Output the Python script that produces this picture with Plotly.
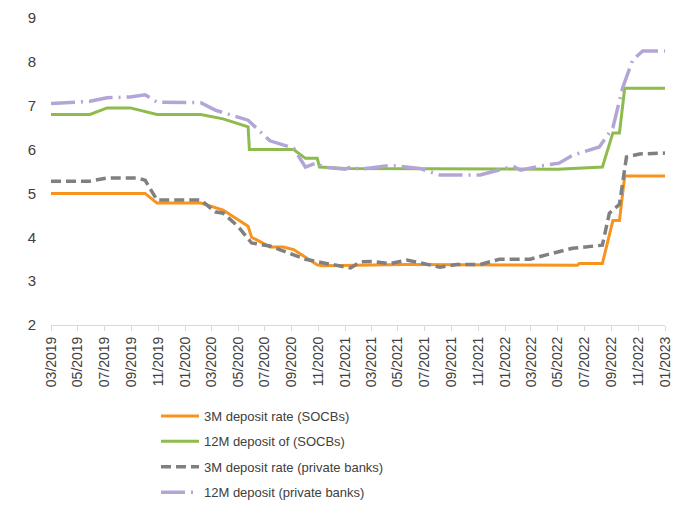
import plotly.graph_objects as go

# 3M deposit rate (SOCBs)
socb3_dates = ["2019-03-01", "2019-10-02", "2019-10-29", "2020-02-06", "2020-03-28", "2020-05-24",
               "2020-06-01", "2020-07-13", "2020-08-12", "2020-09-05", "2020-10-29", "2020-11-10",
               "2021-05-21", "2022-06-15", "2022-06-19", "2022-08-11", "2022-09-04", "2022-09-19",
               "2022-10-01", "2023-01-01"]
socb3_vals = [5.0, 5.0, 4.78, 4.78, 4.62, 4.25,
              4.0, 3.78, 3.78, 3.72, 3.37, 3.35,
              3.38, 3.36, 3.4, 3.4, 4.38, 4.38,
              5.4, 5.4]

# 12M deposit of (SOCBs)
socb12_dates = ["2019-03-01", "2019-05-29", "2019-07-07", "2019-08-29", "2019-10-29", "2020-02-06",
                "2020-03-28", "2020-05-24", "2020-05-27", "2020-09-05", "2020-10-02", "2020-10-29",
                "2020-11-03", "2021-01-01", "2022-05-01", "2022-06-19", "2022-08-11", "2022-09-04",
                "2022-09-19", "2022-10-01", "2023-01-01"]
socb12_vals = [6.8, 6.8, 6.95, 6.95, 6.8, 6.8,
               6.7, 6.52, 6.0, 6.0, 5.8, 5.8,
               5.6, 5.57, 5.55, 5.58, 5.6, 6.38,
               6.38, 7.4, 7.4]

# 3M deposit rate (private banks)
priv3_dates = ["2019-03-01", "2019-05-29", "2019-07-07", "2019-09-15", "2019-10-02", "2019-10-29",
               "2020-02-06", "2020-03-10", "2020-03-28", "2020-05-01", "2020-06-01", "2020-07-13",
               "2020-09-05", "2020-10-02", "2020-11-10", "2021-01-01", "2021-01-13", "2021-02-05",
               "2021-03-04", "2021-04-13", "2021-05-21", "2021-06-20", "2021-08-05", "2021-09-13",
               "2021-11-05", "2021-12-19", "2022-02-27", "2022-04-05", "2022-06-04", "2022-08-11",
               "2022-08-27", "2022-09-19", "2022-10-05", "2022-11-04", "2023-01-01"]
priv3_vals = [5.28, 5.28, 5.35, 5.35, 5.3, 4.85,
              4.85, 4.58, 4.55, 4.25, 3.87, 3.8,
              3.6, 3.5, 3.42, 3.32, 3.3, 3.44,
              3.45, 3.4, 3.48, 3.42, 3.32, 3.38,
              3.38, 3.5, 3.5, 3.6, 3.75, 3.82,
              4.55, 4.75, 5.83, 5.9, 5.92]

# 12M deposit (private banks)
priv12_dates = ["2019-03-01", "2019-05-29", "2019-07-07", "2019-08-29", "2019-10-02", "2019-10-29",
                "2020-02-06", "2020-03-10", "2020-05-24", "2020-07-13", "2020-09-05", "2020-10-02",
                "2020-10-29", "2020-11-10", "2021-01-01", "2021-01-13", "2021-02-05", "2021-04-13",
                "2021-06-20", "2021-08-05", "2021-11-05", "2022-01-19", "2022-02-05", "2022-03-19",
                "2022-05-04", "2022-06-04", "2022-08-04", "2022-09-04", "2022-09-26", "2022-10-19",
                "2022-11-11", "2023-01-01"]
priv12_vals = [7.05, 7.1, 7.18, 7.2, 7.25, 7.08,
               7.07, 6.9, 6.67, 6.2, 6.03, 5.6,
               5.7, 5.6, 5.55, 5.6, 5.55, 5.64,
               5.57, 5.42, 5.42, 5.62, 5.53, 5.62,
               5.69, 5.87, 6.06, 6.5, 7.4, 8.04,
               8.25, 8.25]

names = ["3M deposit rate (SOCBs)", "12M deposit of (SOCBs)",
         "3M deposit rate (private banks)", "12M deposit (private banks)"]

y_ticks = [2, 3, 4, 5, 6, 7, 8, 9]

font_family = "Liberation Sans, Arial, sans-serif"
text_color = "#404040"

fig = go.Figure()
fig.add_trace(go.Scatter(x=socb3_dates, y=socb3_vals, mode="lines", name=names[0],
                         line=dict(color="#F7931E", width=3), legendgroup="a"))
fig.add_trace(go.Scatter(x=socb12_dates, y=socb12_vals, mode="lines", name=names[1],
                         line=dict(color="#8DBB4C", width=3), legendgroup="b"))
fig.add_trace(go.Scatter(x=priv3_dates, y=priv3_vals, mode="lines", name=names[2],
                         line=dict(color="#808080", width=3.5, dash="10px,5px"), legendgroup="c"))
fig.add_trace(go.Scatter(x=priv12_dates, y=priv12_vals, mode="lines", name=names[3],
                         line=dict(color="#B3A6D6", width=3.5, dash="24px,6px,2px,6px"), legendgroup="d"))

fig.update_layout(
    width=683, height=503,
    margin=dict(l=43, r=26, t=10, b=186, autoexpand=False),
    paper_bgcolor="white", plot_bgcolor="white",
    font=dict(family=font_family, size=13, color=text_color),
    showlegend=True,
    legend=dict(x=0.171, y=-0.2476, xanchor="left", yanchor="top",
                orientation="v", tracegroupgap=5.5, itemwidth=38,
                font=dict(size=13, color=text_color),
                bgcolor="rgba(0,0,0,0)"),
    xaxis=dict(type="date", range=["2019-03-01", "2023-01-01"], automargin=False,
               tick0="2019-03-01", dtick="M2", tickformat="%m/%Y",
               tickangle=-90, showgrid=False, zeroline=False,
               showline=True, linecolor="#D9D9D9", linewidth=1,
               ticks="outside", ticklen=5, tickcolor="#D9D9D9",
               tickfont=dict(size=14, color=text_color)),
    yaxis=dict(range=[2, 9], tickvals=y_ticks, showgrid=False, zeroline=False,
               automargin=False,
               showline=False, ticks="", ticklabelstandoff=14,
               tickfont=dict(size=15, color=text_color)),
)

fig.write_html("out.html")
